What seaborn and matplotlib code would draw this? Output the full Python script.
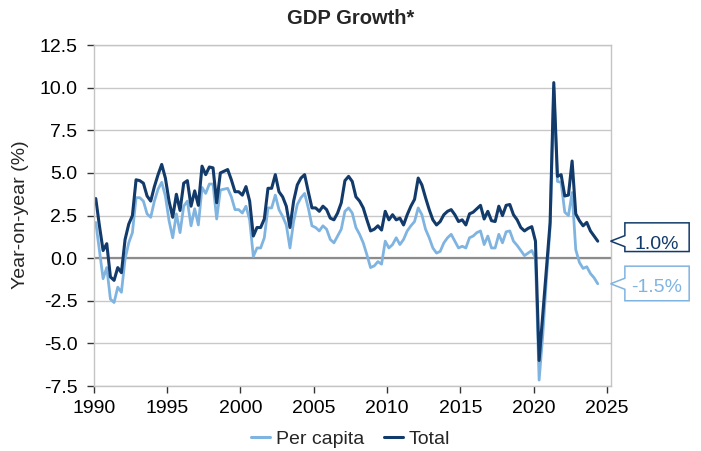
import numpy as np
import pandas as pd
import matplotlib
matplotlib.use("Agg")
import matplotlib.pyplot as plt
import seaborn as sns
from matplotlib.patches import Polygon
from matplotlib.transforms import Affine2D, ScaledTranslation, blended_transform_factory

# Quarterly year-on-year GDP growth, 1990Q1 - 2024Q2
quarters = pd.period_range("1990Q1", "2024Q2", freq="Q")

total = [
    3.5, 1.9, 0.45, 0.85, -1.1, -1.3, -0.55, -0.85, 1.1, 2.0,
    2.5, 4.6, 4.55, 4.4, 3.65, 3.35, 4.2, 4.9, 5.5, 4.7,
    3.35, 2.4, 3.75, 2.8, 4.4, 4.55, 3.05, 3.95, 3.1, 5.4,
    4.9, 5.35, 5.3, 3.25, 5.0, 5.1, 5.2, 4.6, 3.9, 3.9,
    3.7, 4.2, 3.35, 1.3, 1.8, 1.8, 2.3, 4.1, 4.1, 4.9,
    3.9, 3.6, 3.05, 1.8, 3.35, 4.3, 4.7, 4.9, 3.9, 2.95,
    2.95, 2.75, 3.05, 2.85, 2.35, 2.25, 2.65, 3.25, 4.55, 4.8,
    4.5, 3.6, 3.35, 2.95, 2.25, 1.6, 1.7, 1.9, 1.65, 2.75,
    2.25, 2.55, 2.25, 2.35, 1.95, 2.55, 3.05, 3.45, 4.7, 4.3,
    3.55, 2.85, 2.25, 1.95, 2.15, 2.55, 2.75, 2.85, 2.55, 2.15,
    2.25, 1.95, 2.6, 2.7, 2.9, 3.1, 2.3, 2.75, 2.2, 2.15,
    3.05, 2.5, 3.1, 3.15, 2.55, 2.25, 1.8, 1.6, 1.75, 1.85,
    1.0, -6.0, -3.3, -0.6, 2.1, 10.3, 4.8, 4.9, 3.65, 3.7,
    5.7, 2.6, 2.2, 1.9, 2.1, 1.6, 1.3, 1.0,
]

per_capita = [
    2.1, 0.45, -1.2, -0.55, -2.4, -2.6, -1.7, -2.0, -0.05, 0.9,
    1.5, 3.55, 3.55, 3.35, 2.6, 2.4, 3.35, 4.05, 4.45, 3.65,
    2.2, 1.2, 2.6, 1.5, 3.05, 3.35, 1.9, 2.9, 1.95, 4.15,
    3.8, 4.35, 4.35, 2.3, 4.0, 4.05, 4.1, 3.6, 2.85, 2.85,
    2.65, 3.05, 2.25, 0.1, 0.6, 0.6, 1.2, 2.95, 2.95, 3.7,
    2.85, 2.45, 1.95, 0.6, 2.15, 3.15, 3.55, 3.8, 2.95, 1.9,
    1.8, 1.6, 1.9, 1.7, 1.1, 0.9, 1.3, 1.7, 2.75, 2.95,
    2.65, 1.8, 1.4, 0.9, 0.2, -0.55, -0.45, -0.2, -0.35, 1.0,
    0.6, 0.8, 1.2, 0.8, 1.1, 1.6, 1.9, 2.15, 2.95, 2.55,
    1.7, 1.2, 0.6, 0.3, 0.4, 0.9, 1.2, 1.4, 1.0, 0.6,
    0.7, 0.6, 1.2, 1.3, 1.5, 1.6, 0.8, 1.3, 0.6, 0.6,
    1.4, 0.9, 1.55, 1.6, 1.0, 0.75, 0.45, 0.15, 0.3, 0.45,
    0.0, -7.15, -4.5, -1.2, 1.8, 10.0, 4.5, 4.45, 2.7, 2.5,
    3.85, 0.5, -0.25, -0.6, -0.5, -0.9, -1.15, -1.5,
]

series_names = ["Per capita", "Total"]
series_colors = ["#80b4e0", "#123a6a"]
year_ticks = [1990, 1995, 2000, 2005, 2010, 2015, 2020, 2025]
value_ticks = [-7.5, -5.0, -2.5, 0.0, 2.5, 5.0, 7.5, 10.0, 12.5]

sns.set_theme(style="white")
plt.rcParams["font.family"] = ["Liberation Sans", "DejaVu Sans"]

# mid-quarter position on a decimal-year axis
t = np.asarray(quarters.year + (quarters.quarter - 0.5) / 4, dtype=float)
df = pd.DataFrame({
    "t": np.concatenate([t, t]),
    "growth": per_capita + total,
    "series": [series_names[0]] * len(per_capita) + [series_names[1]] * len(total),
})

fig = plt.figure(figsize=(7.01, 4.51), dpi=100)
ax = fig.add_axes([0.134, 0.144, 0.737, 0.756])

sns.lineplot(data=df, x="t", y="growth", hue="series", hue_order=series_names,
             palette=series_colors, linewidth=2.2, ax=ax)
ax.lines[0].set_linewidth(2.0)

ax.set_xlim(1990, 2025.25)
ax.set_ylim(-7.5, 12.5)
ax.set_xticks(year_ticks)
ax.set_xticklabels([str(y) for y in year_ticks])
ax.set_yticks(value_ticks)
ax.set_yticklabels([f"{v:.1f}" for v in value_ticks])
ax.set_xlabel("")
ax.set_ylabel("")

ax.yaxis.grid(True, color="#c8c8c8", linewidth=1.0)
ax.xaxis.grid(False)
ax.axhline(0, color="#8c8c8c", linewidth=1.6, zorder=1.5)
for s in ax.spines.values():
    s.set_color("#c4c4c4")
    s.set_linewidth(1.0)

ax.tick_params(axis="both", which="major", bottom=True, left=True, direction="out",
               length=5, width=1, color="#333333", labelsize=14, labelcolor="black")
ax.tick_params(axis="y", pad=7)
ax.tick_params(axis="x", pad=5)

fig.text(0.5, 1 - 18 / 451, "GDP Growth*", ha="center", va="center",
         fontsize=14.5, fontweight="bold")
fig.text(21 / 701, 1 - 215 / 451, "Year-on-year (%)", ha="center", va="center",
         rotation=90, fontsize=14)

sns.move_legend(ax, "center", bbox_to_anchor=(0.5, 1 - 439 / 451),
                bbox_transform=fig.transFigure, ncol=2, frameon=False, title=None,
                fontsize=14, handlelength=1.0, handletextpad=0.3, columnspacing=1.0)


def end_callout(ax, value, color, box_lo, box_hi):
    """Boxed value label at the right edge, pointing at the series' last value."""
    fig = ax.figure
    anchor = blended_transform_factory(ax.transAxes, ax.transData)
    tr = Affine2D().scale(fig.dpi / 100.0) + ScaledTranslation(1.0, value, anchor)
    x0, x1, notch = 14.3, 78.6, 5.5
    verts = [(0, 0), (x0, notch), (x0, box_hi), (x1, box_hi),
             (x1, box_lo), (x0, box_lo), (x0, -notch)]
    ax.add_patch(Polygon(verts, closed=True, facecolor="white", edgecolor=color,
                         linewidth=1.1, transform=tr, clip_on=False, zorder=5))
    ax.text((x0 + x1) / 2, -1.5, f"{value:.1f}%", transform=tr,
            ha="center", va="center_baseline", fontsize=14, color=color, zorder=6,
            clip_on=False)


end_callout(ax, total[-1], series_colors[1], -10.4, 18.3)
end_callout(ax, per_capita[-1], series_colors[0], -17.0, 17.6)

fig.savefig("out.png", dpi=100)
